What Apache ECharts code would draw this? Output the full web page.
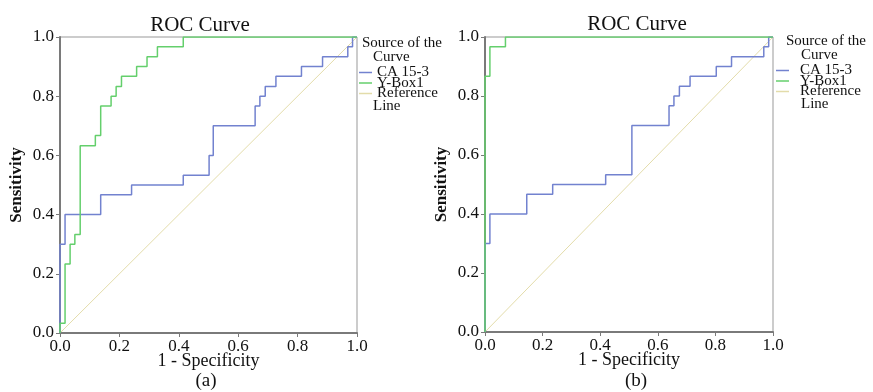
<!DOCTYPE html>
<html>
<head>
<meta charset="utf-8">
<script src="https://cdn.jsdelivr.net/npm/echarts@6/dist/echarts.min.js"></script>
<style>
  html, body { margin: 0; background: #fff; }
  #chart { width: 873px; height: 392px; }
</style>
</head>
<body>
<div id="chart"></div>
<script>
const FONT = '"Liberation Serif", "Times New Roman", serif'

// axis ticks, both axes, both panels
const tickValues = [0, 0.2, 0.4, 0.6, 0.8, 1.0]
const tickLabels = ['0.0', '0.2', '0.4', '0.6', '0.8', '1.0']

const seriesNames = ['CA 15-3', 'Y-Box1', 'Reference Line']

// ROC step corners [1 - specificity, sensitivity], panel (a)
const caA = [[0, 0], [0, 0.3], [0.017, 0.4], [0.137, 0.467], [0.241, 0.5], [0.415, 0.533],
  [0.502, 0.6], [0.516, 0.7], [0.657, 0.767], [0.673, 0.8], [0.691, 0.833], [0.727, 0.867],
  [0.813, 0.9], [0.884, 0.933], [0.969, 0.967], [0.985, 1], [1, 1]]
const yboxA = [[0, 0], [0, 0.033], [0.017, 0.233], [0.034, 0.3], [0.05, 0.333], [0.068, 0.633],
  [0.119, 0.667], [0.137, 0.767], [0.172, 0.8], [0.189, 0.833], [0.207, 0.867], [0.258, 0.9],
  [0.293, 0.933], [0.328, 0.967], [0.415, 1], [1, 1]]

// panel (b)
const caB = [[0, 0], [0, 0.3], [0.017, 0.4], [0.145, 0.467], [0.235, 0.5], [0.419, 0.533],
  [0.51, 0.7], [0.639, 0.767], [0.656, 0.8], [0.675, 0.833], [0.712, 0.867], [0.803, 0.9],
  [0.856, 0.933], [0.968, 0.967], [0.985, 1], [1, 1]]
const yboxB = [[0, 0], [0, 0.867], [0.017, 0.967], [0.071, 1], [1, 1]]

const refLine = [[0, 0], [1, 1]]

const BLUE = '#7282cf'
const GREEN = '#64cf6c'
const REF = '#e3dcaa'
const AXIS = '#7a7a7a'

const chart = echarts.init(document.getElementById('chart'), null, { renderer: 'canvas' })

const tickFmt = (v) => {
  const i = tickValues.findIndex((t) => Math.abs(t - v) < 1e-6)
  return i >= 0 ? tickLabels[i] : ''
}

function xAxisFor(gridIndex) {
  return {
    type: 'value', gridIndex, min: 0, max: 1, interval: 0.2,
    name: '1 - Specificity', nameLocation: 'middle', nameGap: 19, nameMoveOverlap: false,
    nameTextStyle: { fontFamily: FONT, fontSize: 18, color: '#111' },
    axisLine: { show: true, onZero: false, lineStyle: { color: AXIS, width: 2 } },
    axisTick: { show: true, length: 4, lineStyle: { color: AXIS } },
    axisLabel: { fontFamily: FONT, fontSize: 17, color: '#111', margin: 5, formatter: tickFmt },
    splitLine: { show: false },
  }
}

function yAxisFor(gridIndex) {
  return {
    type: 'value', gridIndex, min: 0, max: 1, interval: 0.2,
    name: 'Sensitivity', nameLocation: 'middle', nameGap: 35, nameMoveOverlap: false,
    nameTextStyle: { fontFamily: FONT, fontSize: 17, fontWeight: 'bold', color: '#111' },
    axisLine: { show: true, onZero: false, lineStyle: { color: AXIS, width: 2 } },
    axisTick: { show: true, length: 4, lineStyle: { color: AXIS } },
    axisLabel: { fontFamily: FONT, fontSize: 17, color: '#111', margin: 6, formatter: tickFmt },
    splitLine: { show: false },
  }
}

function stepSeries(name, data, color, idx) {
  return {
    name, type: 'line', xAxisIndex: idx, yAxisIndex: idx, data, step: 'end',
    showSymbol: false, lineStyle: { color, width: 1.5 }, itemStyle: { color },
  }
}

function refSeries(idx) {
  return {
    name: 'Reference Line', type: 'line', xAxisIndex: idx, yAxisIndex: idx, data: refLine,
    showSymbol: false, z: 1, lineStyle: { color: REF, width: 1 }, itemStyle: { color: REF },
  }
}

function legendAt(left, top, textPad) {
  return {
    orient: 'vertical', left, top, padding: 0, itemGap: -4.5,
    itemWidth: 13, itemHeight: 1.5, icon: 'rect',
    data: seriesNames,
    formatter: (n) => (n === 'Reference Line' ? 'Reference' : n),
    textStyle: { fontFamily: FONT, fontSize: 15, color: '#111', padding: [0, 0, 0, textPad] },
  }
}

const txt = (x, y, text, size, align) => ({
  type: 'text', x, y,
  style: { text, fontFamily: FONT, fontSize: size, fill: '#111', textAlign: align || 'left', textVerticalAlign: 'middle' },
})

chart.setOption({
  animation: false,
  grid: [
    { left: 60, top: 37, width: 297, height: 296, show: true, borderColor: '#999', borderWidth: 1 },
    { left: 485, top: 37, width: 288, height: 295, show: true, borderColor: '#999', borderWidth: 1 },
  ],
  xAxis: [xAxisFor(0), xAxisFor(1)],
  yAxis: [yAxisFor(0), yAxisFor(1)],
  legend: [legendAt(359, 65, 0), legendAt(776, 63, 6)],
  series: [
    refSeries(0),
    stepSeries('CA 15-3', caA, BLUE, 0),
    stepSeries('Y-Box1', yboxA, GREEN, 0),
    refSeries(1),
    stepSeries('CA 15-3', caB, BLUE, 1),
    stepSeries('Y-Box1', yboxB, GREEN, 1),
  ],
  graphic: [
    txt(200, 25, 'ROC Curve', 21, 'center'),
    txt(637, 24, 'ROC Curve', 21, 'center'),
    txt(206, 381, '(a)', 19, 'center'),
    txt(636, 381, '(b)', 19, 'center'),
    txt(362, 43, 'Source of the', 15),
    txt(373, 57, 'Curve', 15),
    txt(373, 106, 'Line', 15),
    txt(786, 41, 'Source of the', 15),
    txt(801, 55, 'Curve', 15),
    txt(801, 104, 'Line', 15),
  ],
})

window.addEventListener('resize', () => chart.resize())
</script>
</body>
</html>
